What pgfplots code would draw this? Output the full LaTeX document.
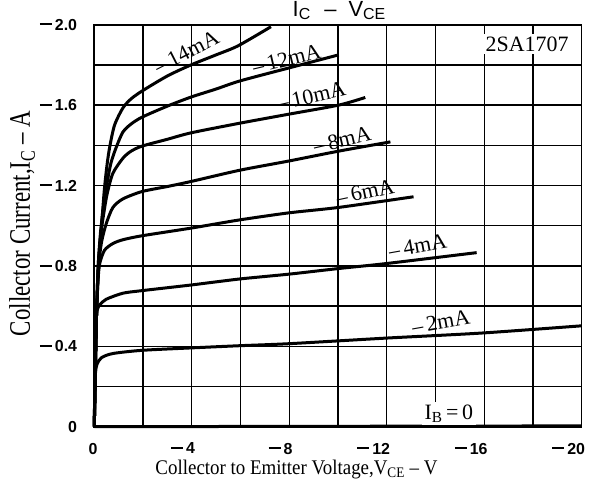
\documentclass[border=0pt]{standalone}
\usepackage{fontspec}
\setmainfont{Liberation Serif}
\newfontfamily\sansf{Liberation Sans}
\usepackage{pgfplots}
\pgfplotsset{compat=1.18}
\tikzset{lbl/.style={font=\fontsize{22}{22}\selectfont, inner sep=0pt}}
\pgfplotsset{crv/.style={black, no markers, line width=3bp, smooth, tension=0.45}}
\newcommand{\mn}{\rule[4.8bp]{12bp}{2bp}\hspace{3bp}}
\begin{document}
\begin{tikzpicture}
\path[use as bounding box] (-94.3bp,-62.3bp) rectangle (501.7bp,426.7bp);
\begin{axis}[
  at={(0,0)}, anchor=south west, scale only axis,
  width=487.4bp, height=402bp,
  xmin=-20, xmax=0, ymin=-2, ymax=0,
  x dir=reverse, y dir=reverse,
  xtick={0,-4,-8,-12,-16,-20},
  xticklabels={0,\mn4,\mn8,\mn12,\mn16,\mn20},
  minor xtick={-2,-6,-10,-14,-18},
  ytick={0,-0.4,-0.8,-1.2,-1.6,-2},
  yticklabels={0,\mn0.4,\mn0.8,\mn1.2,\mn1.6,\mn2.0},
  minor ytick={-0.2,-0.6,-1.0,-1.4,-1.8},
  grid=both,
  major grid style={black, line width=1.4bp},
  minor grid style={black, line width=1.4bp},
  axis line style={black, line width=1.6bp},
  major tick length=0pt, minor tick length=0pt,
  tick label style={font=\sansf\bfseries\fontsize{16}{16}\selectfont, inner sep=0pt},
  xticklabel style={anchor=north east, xshift=3.5bp, yshift=-16bp},
  yticklabel style={anchor=east, xshift=-17bp},
  clip=false,
]
% I_B = 14 mA
\addplot[crv] coordinates {(0,0) (-0.04,-0.25) (-0.09,-0.55) (-0.15,-0.76) (-0.22,-0.88) (-0.29,-0.99) (-0.36,-1.1) (-0.42,-1.19) (-0.52,-1.3) (-0.63,-1.39) (-0.83,-1.50) (-1.17,-1.585) (-1.5,-1.63) (-1.96,-1.67) (-3.0,-1.745) (-3.97,-1.80) (-5.0,-1.85) (-5.9,-1.895) (-7.25,-1.99)};
% 12 mA
\addplot[crv] coordinates {(0,0) (-0.04,-0.25) (-0.09,-0.55) (-0.16,-0.8) (-0.25,-0.96) (-0.37,-1.09) (-0.49,-1.19) (-0.68,-1.31) (-0.9,-1.39) (-1.17,-1.465) (-1.5,-1.505) (-1.96,-1.54) (-3.0,-1.595) (-3.97,-1.64) (-5.0,-1.68) (-5.97,-1.72) (-7.99,-1.785) (-10.03,-1.85)};
% 10 mA
\addplot[crv] coordinates {(0,0) (-0.04,-0.25) (-0.09,-0.55) (-0.16,-0.8) (-0.27,-0.96) (-0.4,-1.07) (-0.53,-1.16) (-0.76,-1.26) (-1.17,-1.335) (-1.5,-1.37) (-1.96,-1.396) (-3.0,-1.43) (-3.97,-1.462) (-5.97,-1.51) (-7.99,-1.555) (-10.03,-1.60) (-11.12,-1.638)};
% 8 mA
\addplot[crv] coordinates {(0,0) (-0.04,-0.25) (-0.09,-0.55) (-0.18,-0.8) (-0.3,-0.92) (-0.49,-1.01) (-0.76,-1.09) (-1.17,-1.133) (-1.96,-1.17) (-3.0,-1.195) (-3.97,-1.22) (-5.97,-1.276) (-7.99,-1.322) (-10.03,-1.371) (-12.15,-1.417)};
% 6 mA
\addplot[crv] coordinates {(0,0) (-0.04,-0.25) (-0.09,-0.55) (-0.15,-0.72) (-0.22,-0.81) (-0.42,-0.878) (-0.76,-0.911) (-1.17,-0.93) (-1.96,-0.95) (-3.97,-0.988) (-5.97,-1.029) (-7.99,-1.064) (-10.03,-1.091) (-13.1,-1.144)};
% 4 mA
\addplot[crv] coordinates {(0,0) (-0.03,-0.3) (-0.07,-0.52) (-0.12,-0.58) (-0.22,-0.606) (-0.49,-0.634) (-1.17,-0.664) (-1.96,-0.677) (-3.97,-0.705) (-5.97,-0.735) (-7.99,-0.759) (-10.03,-0.787) (-12.0,-0.812) (-15.69,-0.866)};
% 2 mA
\addplot[crv] coordinates {(0,0) (-0.02,-0.18) (-0.05,-0.27) (-0.11,-0.31) (-0.29,-0.343) (-0.76,-0.364) (-1.96,-0.38) (-3.97,-0.392) (-5.97,-0.403) (-7.99,-0.413) (-12.0,-0.441) (-15.9,-0.466) (-20,-0.502)};
% 0 mA
\addplot[crv, sharp plot] coordinates {(0,0) (-20,-0.004)};

\node[lbl, rotate=27] at (axis cs:-3.78,-1.865) {–\,14mA};
\node[lbl, rotate=13.5] at (axis cs:-7.89,-1.83) {–\,12mA};
\node[lbl, rotate=12.5] at (axis cs:-8.91,-1.645) {–\,10mA};
\node[lbl, rotate=13] at (axis cs:-10.17,-1.427) {–\,8mA};
\node[lbl, rotate=12] at (axis cs:-11.12,-1.168) {–\,6mA};
\node[lbl, rotate=10] at (axis cs:-13.27,-0.90) {–\,4mA};
\node[lbl, rotate=10] at (axis cs:-14.22,-0.521) {–\,2mA};
\node[lbl, anchor=base, fill=white, inner sep=2.5bp] at (axis cs:-17.76,-1.869) {2SA1707};
\node[lbl, anchor=base, fill=white, inner sep=2.5bp] at (axis cs:-14.55,-0.038) {I\textsubscript{B}\,=\,0};
\end{axis}
\node[anchor=base, inner sep=0pt, font=\sansf\fontsize{22}{22}\selectfont] at (244.7bp,409.7bp) {I{\fontsize{16}{16}\selectfont\raisebox{-3bp}{C}}\hspace{14bp}–\hspace{12bp}V{\fontsize{16}{16}\selectfont\raisebox{-3bp}{CE}}};
\node[anchor=base, inner sep=0pt, font=\fontsize{19}{19}\selectfont] at (202.2bp,-47.3bp) {\scalebox{1}[1.1]{Collector to Emitter Voltage,V\textsubscript{CE} – V}};
\node[anchor=base, inner sep=0pt, rotate=90, font=\fontsize{23}{23}\selectfont] at (-64.3bp,203.2bp) {\scalebox{1}[1.3]{Collector Current,I\textsubscript{C} – A}};
\end{tikzpicture}
\end{document}
